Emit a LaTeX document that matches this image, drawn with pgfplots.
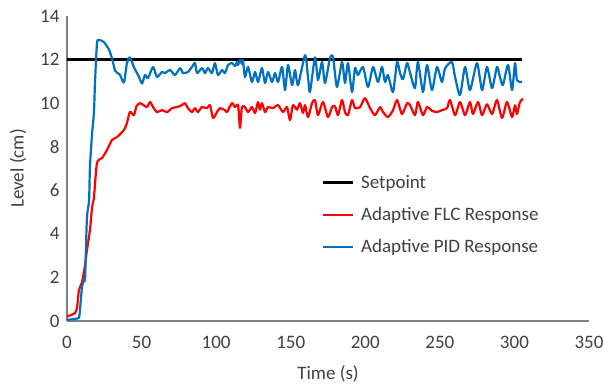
\documentclass[border=0pt]{standalone}
\usepackage{pgfplots}
\pgfplotsset{compat=1.18}
\usepackage{fontspec}
\setmainfont{Carlito}
\definecolor{pidblue}{RGB}{0,112,192}
\definecolor{axisgray}{RGB}{128,128,128}
\definecolor{txtgray}{RGB}{64,64,64}
\begin{document}
\begin{tikzpicture}
\path[use as bounding box] (-67pt,-64pt) rectangle (537pt,321pt);
\begin{axis}[
  at={(0pt,0pt)}, anchor=origin,
  scale only axis, width=522pt, height=305pt,
  xmin=0, xmax=350, ymin=0, ymax=14,
  xtick={0,50,...,350}, ytick={0,2,...,14},
  axis lines=left,
  axis line style={-, axisgray, line width=1.3pt},
  major tick length=0pt,
  /pgf/number format/assume math mode=true,
  tick label style={font=\fontsize{19}{22}\selectfont, text=txtgray},
  yticklabel style={xshift=-4pt},
  xticklabel style={yshift=-12pt},
  xlabel={Time (s)}, ylabel={Level (cm)},
  label style={font=\fontsize{19}{22}\selectfont, text=txtgray},
  xlabel style={at={(axis description cs:0.5,0)}, anchor=center, yshift=-53pt},
  ylabel style={at={(axis description cs:0,0.5)}, anchor=center, yshift=49pt, rotate=0},
  legend style={at={(0.488,0.485)}, anchor=north west, draw=none, fill=none,
    font=\fontsize{19}{22}\selectfont, text=txtgray, row sep=13.5pt, inner sep=0pt,
    nodes={inner xsep=7pt}},
  legend cell align=left,
  legend image code/.code={\draw[#1] (0pt,0pt) -- (30pt,0pt);},
  every axis plot/.append style={line width=2.2pt, line join=round},
]
\addplot[black, no markers] coordinates {(0,12) (305,12)};
\addlegendentry{Setpoint}
\addplot[red, no markers, smooth, tension=0.4] coordinates {
(0,0.2) (5.4,0.37) (6.8,0.64) (8.0,1.42) (10.1,1.79) (12.1,2.57) (13.4,3.26) (15.4,4.18) (16.8,5.23) (18.1,5.69) (20.1,7.25) (23.5,7.48) (26.8,7.85) (30.2,8.31) (33.5,8.44) (38.2,8.77) (40.2,9.09) (42.2,9.6) (44.9,9.45) (46.5,9.85) (48.9,10.0) (51.5,9.9) (53.6,9.82) (55.7,10.05) (57.7,9.82) (60.3,9.59) (63.7,9.68) (67.1,9.59) (70.4,9.77) (73.8,9.82) (77.1,9.91) (79.1,10.0) (81.1,9.77) (83.8,9.59) (85.8,9.77) (87.8,9.59) (90.5,9.82) (93.9,9.77) (95.9,9.91) (97.9,9.32) (100.6,9.59) (102.6,9.77) (105.9,9.68) (107.3,9.59) (110.6,10.0) (112.6,9.82) (114.7,9.91) (116.0,8.86) (117.3,9.82) (119.3,9.82) (121.4,9.59) (124.0,9.82) (126.1,9.55) (128.1,10.05) (129.4,9.7) (130.7,10.0) (132.8,9.59) (134.8,9.82) (138.1,9.77) (141.5,9.91) (144.8,9.59) (147.5,9.82) (149.5,9.22) (151.5,9.91) (154.2,9.7) (156.2,10.0) (158.2,9.55) (159.6,9.91) (161.6,9.36) (164.3,10.0) (166.3,10.14) (168.3,9.45) (171.6,10.05) (175.0,9.36) (177.7,9.82) (179.7,9.86) (181.7,9.45) (184.4,10.14) (186.4,9.59) (188.4,9.45) (191.1,10.14) (193.1,9.77) (196.5,9.82) (199.8,10.23) (203.2,9.77) (206.5,9.45) (209.9,9.82) (211.9,9.59) (215.2,9.36) (218.6,9.68) (221.3,10.14) (224.6,9.5) (228.0,10.0) (230.0,9.91) (233.3,9.45) (235.3,10.05) (238.7,9.45) (241.4,9.82) (244.7,9.65) (248.1,9.59) (251.4,9.68) (254.8,9.77) (256.8,10.14) (260.2,9.45) (263.5,10.05) (266.9,9.45) (270.2,10.05) (272.2,9.5) (275.6,10.05) (278.3,9.45) (281.6,9.95) (285.0,9.5) (288.3,10.14) (291.7,9.32) (295.0,10.05) (298.4,9.36) (300.4,9.9) (301.7,9.5) (303.7,10.05) (305.8,10.2)
};
\addlegendentry{Adaptive FLC Response}
\addplot[pidblue, no markers, smooth, tension=0.4] coordinates {
(0,0.05) (5.4,0.1) (8.0,0.15) (8.7,0.5) (10.1,1.6) (11.4,1.85) (12.1,1.9) (12.7,3.3) (13.4,4.8) (14.8,5.55) (15.4,7.1) (16.8,8.6) (18.1,9.6) (18.8,11.0) (20.1,12.75) (21.5,12.9) (24.8,12.8) (28.2,12.45) (30.2,12.05) (32.2,11.5) (33.5,11.4) (35.5,11.3) (38.2,10.95) (40.2,11.85) (42.2,12.1) (44.9,11.65) (48.3,11.2) (50.3,10.9) (52.3,11.29) (54.3,11.15) (57.7,11.66) (60.3,11.2) (63.7,11.43) (65.7,11.38) (69.1,11.52) (72.4,11.29) (75.8,11.61) (77.8,11.38) (81.1,11.43) (83.8,11.66) (85.8,11.84) (87.2,11.38) (90.5,11.61) (92.5,11.38) (94.5,11.61) (97.2,11.38) (99.2,11.84) (101.2,11.29) (103.9,11.52) (105.9,11.38) (108.0,11.75) (110.6,11.84) (112.6,11.7) (114.0,11.89) (114.7,11.75) (116.0,11.98) (117.3,11.8) (118.0,11.98) (119.3,11.2) (121.4,11.66) (124.0,10.97) (126.1,11.43) (128.1,10.97) (130.7,11.61) (132.8,10.92) (134.8,11.43) (137.5,10.97) (139.5,11.38) (141.5,10.97) (144.2,11.66) (146.2,10.6) (148.2,11.75) (150.9,10.83) (152.9,11.52) (154.9,10.83) (159.6,12.2) (161.6,11.2) (162.9,10.51) (166.3,12.1) (168.3,11.06) (171.0,11.89) (173.0,10.92) (176.3,12.07) (178.4,12.11) (181.0,10.74) (184.4,11.89) (186.4,10.92) (188.4,11.84) (191.1,10.51) (193.1,11.61) (195.1,11.29) (198.5,11.66) (201.8,10.74) (205.2,11.66) (208.5,10.97) (211.2,11.66) (213.2,10.97) (215.2,11.29) (218.6,10.51) (221.3,11.89) (223.3,11.38) (225.3,11.1) (228.0,11.84) (230.0,11.4) (233.3,10.69) (235.3,11.89) (238.7,10.51) (241.4,11.75) (244.7,10.6) (248.1,11.66) (251.4,10.97) (253.5,11.6) (258.1,11.89) (260.2,11.2) (263.5,10.37) (266.9,11.66) (270.2,10.6) (274.9,11.84) (278.3,10.6) (281.6,11.66) (285.0,10.69) (288.3,11.66) (290.3,11.2) (292.3,10.83) (295.7,11.75) (298.4,10.6) (300.4,11.84) (301.7,11.06) (305.1,10.97)
};
\addlegendentry{Adaptive PID Response}
\end{axis}
\end{tikzpicture}
\end{document}
